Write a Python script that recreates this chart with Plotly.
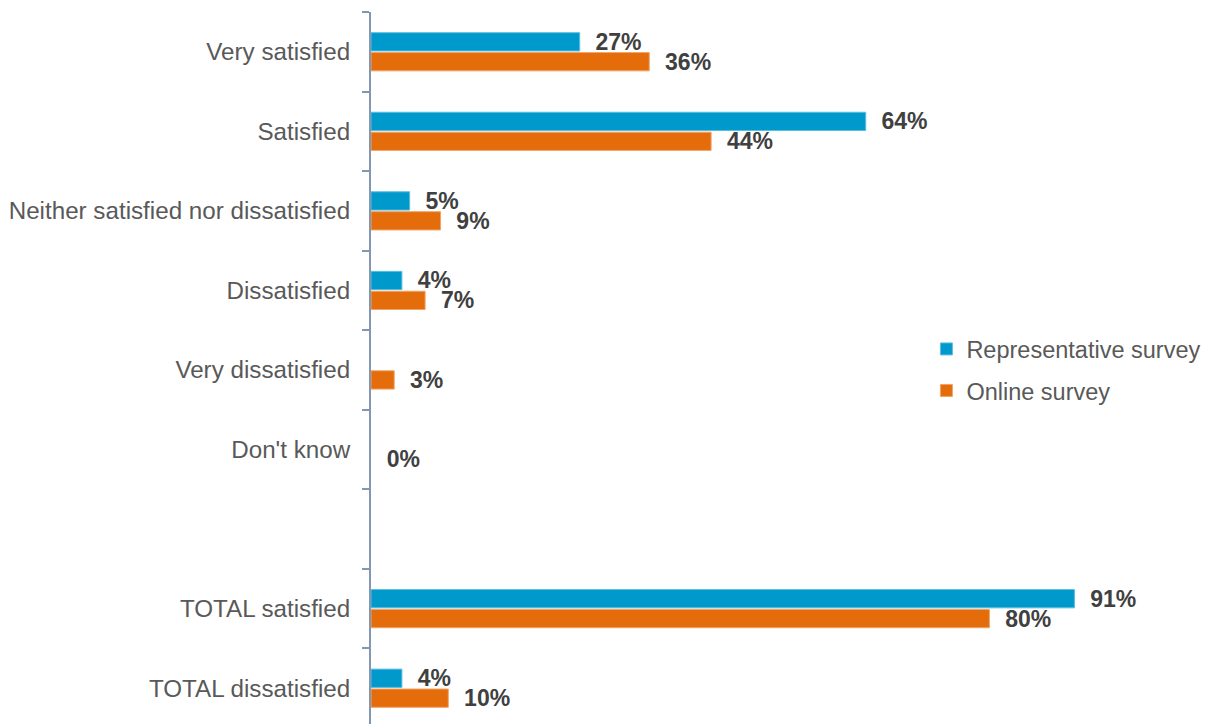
import plotly.graph_objects as go

# Survey answer categories (top to bottom); " " is an empty spacer row
categories = [
    "Very satisfied",
    "Satisfied",
    "Neither satisfied nor dissatisfied",
    "Dissatisfied",
    "Very dissatisfied",
    "Don't know",
    " ",
    "TOTAL satisfied",
    "TOTAL dissatisfied",
]
representative = [27, 64, 5, 4, None, None, None, 91, 4]
online = [36, 44, 9, 7, 3, 0, None, 80, 10]

BLUE = "#0099CC"
ORANGE = "#E46C0A"
LABEL = "#404040"
CAT = "#595959"
AXIS = "#8497B0"
PAD = "\u00a0\u00a0"


def labels(vals):
    return [None if v is None else f"{PAD}{v}%" for v in vals]


def edge_widths(vals):
    return [1 if v else 0 for v in vals]


fig = go.Figure()
for name, vals, color, edge, grp in [
    ("Representative survey", representative, BLUE, "#5CBDE0", "a"),
    ("Online survey", online, ORANGE, "#F0A46A", "b"),
]:
    fig.add_trace(go.Bar(
        name=name,
        y=categories,
        x=vals,
        orientation="h",
        marker=dict(color=color, line=dict(color=edge, width=edge_widths(vals))),
        text=labels(vals),
        textposition="outside",
        constraintext="none",
        cliponaxis=False,
        textfont=dict(family="Liberation Sans, Arial", size=23, color=LABEL,
                      weight="bold"),
        legendgroup=grp,
    ))

fig.update_layout(
    width=1210,
    height=724,
    margin=dict(l=371, r=66, t=12, b=0),
    paper_bgcolor="white",
    plot_bgcolor="white",
    barmode="group",
    bargap=0.5,
    bargroupgap=0.08,
    font=dict(family="Liberation Sans, Arial", size=24, color=CAT),
    legend=dict(
        x=0.7185, y=0.497, xanchor="left", yanchor="middle",
        font=dict(size=23.5, color=CAT),
        tracegroupgap=8,
        bgcolor="rgba(0,0,0,0)",
    ),
    showlegend=True,
)
fig.update_xaxes(
    range=[0, 100],
    visible=False,
)
fig.update_yaxes(
    type="category",
    categoryorder="array",
    categoryarray=categories,
    range=[8.45, -0.5],
    tickson="boundaries",
    ticks="outside",
    ticklen=7,
    tickwidth=2,
    tickcolor=AXIS,
    showline=True,
    linecolor=AXIS,
    linewidth=2,
    showgrid=False,
    ticklabelstandoff=14,
    tickfont=dict(size=24.2, color=CAT),
)

fig.write_html("out.html")
